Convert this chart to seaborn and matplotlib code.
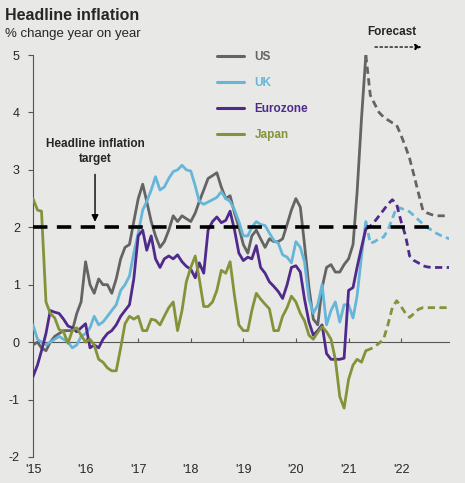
import pandas as pd
import numpy as np
import matplotlib
matplotlib.use("Agg")
import matplotlib.pyplot as plt
import matplotlib.dates as mdates
import seaborn as sns

# monthly y/y headline inflation, Jan 2015 - May 2021 (actual)
us = [-0.05, 0.0, -0.1, -0.15, 0.0, 0.1, 0.15, 0.2, 0.2, 0.2, 0.5, 0.7,
      1.4, 1.0, 0.85, 1.1, 1.0, 1.0, 0.85, 1.1, 1.45, 1.65, 1.7, 2.1,
      2.5, 2.75, 2.45, 2.1, 1.85, 1.65, 1.75, 1.95, 2.2, 2.1, 2.2, 2.15,
      2.1, 2.25, 2.45, 2.65, 2.85, 2.9, 2.95, 2.7, 2.5, 2.55, 2.25, 2.0,
      1.7, 1.55, 1.85, 1.95, 1.8, 1.65, 1.8, 1.75, 1.75, 1.8, 2.05, 2.3,
      2.5, 2.35, 1.7, 0.95, 0.4, 0.3, 0.95, 1.3, 1.35, 1.22, 1.22, 1.35,
      1.45, 1.7, 2.6, 3.9, 5.0]
uk = [0.3, 0.05, 0.0, -0.05, 0.0, 0.05, 0.1, 0.05, 0.0, -0.1, -0.05, 0.1,
      0.15, 0.25, 0.45, 0.3, 0.35, 0.45, 0.55, 0.65, 0.9, 1.0, 1.15, 1.55,
      1.9, 2.3, 2.45, 2.65, 2.88, 2.65, 2.7, 2.85, 2.97, 3.0, 3.08, 3.0,
      2.98, 2.72, 2.45, 2.4, 2.44, 2.48, 2.52, 2.62, 2.5, 2.45, 2.3, 2.1,
      1.85, 1.85, 2.0, 2.1, 2.05, 2.03, 1.9, 1.77, 1.72, 1.52, 1.48, 1.38,
      1.75, 1.65, 1.4, 0.75, 0.5, 0.65, 1.0, 0.3, 0.55, 0.7, 0.35, 0.65,
      0.65, 0.42, 0.8, 1.5, 2.1]
eurozone = [-0.6, -0.4, -0.15, 0.15, 0.55, 0.52, 0.5, 0.4, 0.28, 0.25, 0.18, 0.25,
            0.32, -0.1, -0.05, -0.1, 0.05, 0.15, 0.2, 0.3, 0.45, 0.55, 0.65, 1.1,
            1.85, 1.95, 1.6, 1.85, 1.45, 1.3, 1.45, 1.5, 1.45, 1.52, 1.4, 1.32,
            1.27, 1.12, 1.38, 1.2, 1.95, 2.1, 2.18, 2.08, 2.12, 2.28, 1.95, 1.55,
            1.42, 1.48, 1.45, 1.68, 1.3, 1.2, 1.05, 0.97, 0.88, 0.76, 1.0, 1.3,
            1.33, 1.22, 0.75, 0.35, 0.12, 0.2, 0.3, -0.2, -0.3, -0.3, -0.3, -0.28,
            0.9, 0.95, 1.3, 1.65, 1.97]
japan = [2.5, 2.3, 2.28, 0.7, 0.5, 0.42, 0.22, 0.18, -0.02, 0.2, 0.25, 0.12,
         0.0, 0.05, -0.05, -0.3, -0.35, -0.45, -0.5, -0.5, -0.1, 0.32, 0.45, 0.4,
         0.45, 0.2, 0.2, 0.4, 0.38, 0.3, 0.45, 0.6, 0.7, 0.2, 0.55, 1.05,
         1.3, 1.5, 1.1, 0.62, 0.62, 0.7, 0.9, 1.25, 1.2, 1.4, 0.8, 0.3,
         0.2, 0.2, 0.55, 0.85, 0.75, 0.66, 0.58, 0.2, 0.2, 0.45, 0.6, 0.8,
         0.7, 0.5, 0.37, 0.12, 0.05, 0.17, 0.27, 0.18, 0.05, -0.3, -0.95, -1.15,
         -0.65, -0.4, -0.3, -0.35, -0.15]

# forecasts, Jun 2021 - Dec 2022
us_fc = [4.3, 4.15, 4.0, 3.92, 3.87, 3.82, 3.78, 3.6, 3.4, 3.2, 2.9, 2.6,
         2.3, 2.25, 2.22, 2.2, 2.2, 2.2, 2.2]
uk_fc = [1.72, 1.75, 1.8, 1.83, 1.95, 2.15, 2.35, 2.33, 2.3, 2.27, 2.2, 2.13,
         2.06, 2.0, 1.95, 1.9, 1.86, 1.83, 1.8]
eurozone_fc = [2.02, 2.1, 2.2, 2.3, 2.4, 2.48, 2.4, 2.1, 1.85, 1.5, 1.42, 1.38,
               1.33, 1.31, 1.3, 1.3, 1.3, 1.3, 1.3]
japan_fc = [-0.12, -0.08, -0.02, 0.05, 0.3, 0.6, 0.72, 0.62, 0.5, 0.43, 0.5, 0.57,
            0.6, 0.6, 0.6, 0.6, 0.6, 0.6, 0.6]

countries = ["US", "UK", "Eurozone", "Japan"]
actuals = [us, uk, eurozone, japan]
forecasts = [us_fc, uk_fc, eurozone_fc, japan_fc]
colors = {"US": "#646464", "UK": "#65b6d8", "Eurozone": "#4f2a8c", "Japan": "#84933a"}
target = 2.0

bg = "#e8e8e6"
sns.set_theme(style="white", rc={"axes.facecolor": bg, "figure.facecolor": bg})
plt.rcParams["font.family"] = ["Liberation Sans", "DejaVu Sans"]
plt.rcParams["axes.unicode_minus"] = False

dates_act = pd.date_range("2015-01-01", periods=len(us), freq="MS")
dates_fc = pd.date_range(dates_act[-1], periods=len(us_fc) + 1, freq="MS")

frames = []
for name, a, f in zip(countries, actuals, forecasts):
    frames.append(pd.DataFrame({"date": dates_act, "value": a, "country": name, "kind": "actual"}))
    frames.append(pd.DataFrame({"date": dates_fc, "value": [a[-1]] + f, "country": name, "kind": "forecast"}))
df = pd.concat(frames, ignore_index=True)

fig = plt.figure(figsize=(4.65, 4.83), dpi=100)
ax = fig.add_axes([0.071, 0.054, 0.895, 0.832])

# target line
ax.plot([dates_act[0], pd.Timestamp("2022-09-01")], [target, target], color="black",
        lw=2.6, dashes=(4, 2.6), zorder=5)

for name in countries:
    sub = df[(df.country == name) & (df.kind == "actual")]
    sns.lineplot(data=sub, x="date", y="value", color=colors[name], lw=2.0, ax=ax,
                 label=name, zorder=3)
    sub = df[(df.country == name) & (df.kind == "forecast")]
    sns.lineplot(data=sub, x="date", y="value", color=colors[name], lw=2.0, ax=ax,
                 zorder=3, legend=False)
    ax.lines[-1].set_dashes((2.6, 1.6))

ax.set_xlim(pd.Timestamp("2015-01-01"), pd.Timestamp("2022-12-01"))
ax.set_ylim(-2, 5)
ax.set_yticks(range(-2, 6))
ax.set_xlabel("")
ax.set_ylabel("")

for s in ["top", "right", "bottom"]:
    ax.spines[s].set_visible(False)
ax.spines["left"].set_color("#555555")
ax.spines["left"].set_linewidth(0.8)
ax.tick_params(axis="y", direction="out", length=3.5, width=0.8, color="#555555",
               labelsize=9, pad=6, left=True)

ax.xaxis.set_major_locator(mdates.YearLocator())
ax.xaxis.set_major_formatter(mdates.DateFormatter("'%y"))
ax.tick_params(axis="x", length=0, labelsize=9, pad=5)

# zero line with upward ticks
zero = ax.secondary_xaxis(2 / 7)
zero.xaxis.set_major_locator(mdates.YearLocator())
zero.tick_params(axis="x", direction="in", length=3, width=0.8, color="#555555",
                 labelbottom=False)
zero.spines["bottom"].set_color("#555555")
zero.spines["bottom"].set_linewidth(0.8)

leg = ax.legend(loc="upper left", bbox_to_anchor=(0.466, 0.895), bbox_transform=fig.transFigure,
                frameon=False, handlelength=2.3, handletextpad=0.9, labelspacing=1.2,
                borderpad=0, borderaxespad=0, labelcolor="linecolor",
                prop={"weight": "bold", "size": 8.5})
for h in leg.get_lines():
    h.set_linewidth(2.2)

ax.annotate("", xy=(0.149, 0.578), xytext=(0.149, 0.71), xycoords="axes fraction",
            arrowprops=dict(arrowstyle="-|>", color="black", lw=1.0, mutation_scale=10))
ax.text(0.149, 0.76, "Headline inflation\ntarget", transform=ax.transAxes, ha="center",
        va="center", fontsize=8.5, fontweight="bold", linespacing=1.25)

ax.text(0.862, 1.058, "Forecast", transform=ax.transAxes, ha="center", va="center",
        fontsize=8.5, fontweight="bold")
ax.annotate("", xy=(0.94, 1.02), xytext=(0.815, 1.02), xycoords="axes fraction",
            arrowprops=dict(arrowstyle="-|>", color="black", lw=0.9, linestyle=(0, (2, 2)),
                            mutation_scale=9), annotation_clip=False)

fig.text(0.011, 0.967, "Headline inflation", fontsize=11.5, fontweight="bold", va="center")
fig.text(0.011, 0.93, "% change year on year", fontsize=9.5, va="center")

fig.savefig("out.png", dpi=100, facecolor=bg)
